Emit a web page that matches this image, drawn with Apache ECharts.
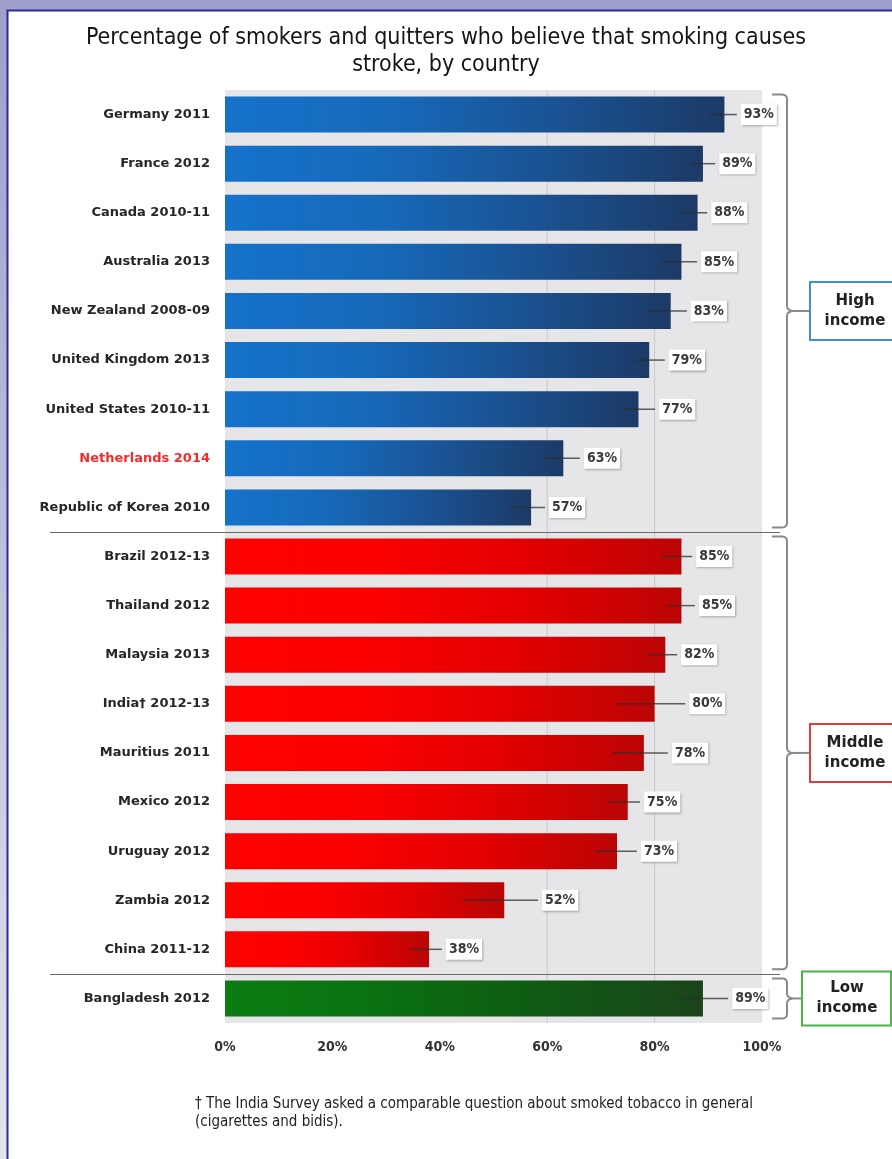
<!DOCTYPE html>
<html>
<head>
<meta charset="utf-8">
<script src="https://cdn.jsdelivr.net/npm/echarts@6/dist/echarts.min.js"></script>
<style>
  html, body { margin: 0; padding: 0; background: #ffffff; }
  #chart { width: 892px; height: 1159px; }
</style>
</head>
<body>
<div id="chart"></div>
<script>
// Survey rows, top to bottom
const categories = [
  'Germany 2011', 'France 2012', 'Canada 2010-11', 'Australia 2013',
  'New Zealand 2008-09', 'United Kingdom 2013', 'United States 2010-11',
  'Netherlands 2014', 'Republic of Korea 2010',
  'Brazil 2012-13', 'Thailand 2012', 'Malaysia 2013', 'India\u2020 2012-13',
  'Mauritius 2011', 'Mexico 2012', 'Uruguay 2012', 'Zambia 2012', 'China 2011-12',
  'Bangladesh 2012'
];
const incomeGroup = [
  'high', 'high', 'high', 'high', 'high', 'high', 'high', 'high', 'high',
  'middle', 'middle', 'middle', 'middle', 'middle', 'middle', 'middle', 'middle', 'middle',
  'low'
];
// Share believing smoking causes stroke (%)
const values = [93, 89, 88, 85, 83, 79, 77, 63, 57, 85, 85, 82, 80, 78, 75, 73, 52, 38, 89];
// Confidence interval bounds (%)
const ciLow = [89.9, 86.6, 85.1, 81.0, 78.8, 76.3, 74.1, 59.6, 53.1, 81.4, 82.3, 78.6, 73.0, 72.3, 71.3, 68.9, 44.3, 34.5, 84.7];
const ciHigh = [95.3, 91.3, 89.8, 87.9, 86.0, 81.9, 80.1, 66.1, 59.6, 87.0, 87.5, 84.2, 85.7, 82.5, 77.3, 76.7, 58.3, 40.4, 93.7];
const xTicks = [0, 20, 40, 60, 80, 100];
const gridValues = [60, 80];
const highlighted = 'Netherlands 2014';
const groupBoxes = [
  { key: 'high', label: 'High\nincome', color: '#3d8fd8' },
  { key: 'middle', label: 'Middle\nincome', color: '#e63a3a' },
  { key: 'low', label: 'Low\nincome', color: '#45b845' }
];
const titleText = 'Percentage of smokers and quitters who believe that smoking causes\nstroke, by country';
const footnote = '\u2020 The India Survey asked a comparable question about smoked tobacco in general\n(cigarettes and bidis).';

const COND = '"DejaVu Sans Condensed", "DejaVu Sans", sans-serif';
const SANS = '"DejaVu Sans", Verdana, sans-serif';

function grad(stops) {
  return new echarts.graphic.LinearGradient(0, 0, 1, 0,
    stops.map((c, i) => ({ offset: i / (stops.length - 1), color: c })));
}
const fills = {
  high: ['#1572cb', '#1669ba', '#1a5292', '#1c3a66'],
  middle: ['#ff0000', '#fa0000', '#e20000', '#bb0505'],
  low: ['#0b7d12', '#0a7010', '#0f5a14', '#1b441b']
};

const chart = echarts.init(document.getElementById('chart'), null, { renderer: 'canvas' });

const barData = values.map((v, i) => ({
  value: v,
  itemStyle: { color: grad(fills[incomeGroup[i]]) }
}));
const ciData = values.map((v, i) => [ciLow[i], ciHigh[i], i, v]);

const option = {
  animation: false,
  backgroundColor: 'transparent',
  title: {
    text: titleText,
    left: 'center',
    top: 20,
    textStyle: { fontFamily: COND, fontSize: 23, fontWeight: 'normal', color: '#141414', lineHeight: 27 }
  },
  grid: {
    left: 225, top: 90, width: 537, height: 933,
    show: true, backgroundColor: '#e6e5e8', borderWidth: 0
  },
  xAxis: {
    type: 'value', min: xTicks[0], max: xTicks[xTicks.length - 1], interval: 20,
    axisLine: { show: false }, axisTick: { show: false }, splitLine: { show: false },
    axisLabel: {
      formatter: '{value}%', margin: 17,
      fontFamily: COND, fontSize: 14, fontWeight: 'bold', color: '#333'
    }
  },
  yAxis: {
    type: 'category', inverse: true,
    data: categories.map(c => c === highlighted
      ? { value: c, textStyle: { color: '#f52a2a' } }
      : c),
    axisLine: { show: false }, axisTick: { show: false }, splitLine: { show: false },
    axisLabel: { margin: 15, fontFamily: SANS, fontSize: 13, fontWeight: 'bold', color: '#262626' }
  },
  series: [
    {
      // vertical reference lines behind the bars
      type: 'custom', z: 1, silent: true,
      data: gridValues.map(v => [v]),
      encode: { x: 0 },
      renderItem: function (params, api) {
        const x = api.coord([api.value(0), 0])[0];
        const cs = params.coordSys;
        return {
          type: 'line',
          shape: { x1: x, y1: cs.y, x2: x, y2: cs.y + cs.height },
          style: { stroke: '#c9c8cc', lineWidth: 1 }
        };
      }
    },
    {
      type: 'bar', z: 2, data: barData, barWidth: 36, silent: true
    },
    {
      // confidence interval and value tag
      type: 'custom', z: 3, silent: true,
      data: ciData,
      encode: { x: [0, 1], y: 2 },
      renderItem: function (params, api) {
        const p1 = api.coord([api.value(0), api.value(2)]);
        const p2 = api.coord([api.value(1), api.value(2)]);
        return {
          type: 'group',
          children: [
            {
              type: 'line',
              shape: { x1: p1[0], y1: p1[1], x2: p2[0], y2: p2[1] },
              style: { stroke: 'rgba(45,45,45,0.75)', lineWidth: 1.5 }
            },
            {
              type: 'text',
              x: p2[0] + 4, y: p2[1],
              style: {
                text: api.value(3) + '%',
                fill: '#3a3a3a',
                font: 'bold 14px ' + COND,
                align: 'left', verticalAlign: 'middle',
                backgroundColor: '#ffffff',
                padding: [4, 3, 3, 3],
                shadowColor: 'rgba(0,0,0,0.28)', shadowBlur: 2,
                shadowOffsetX: 1, shadowOffsetY: 1
              }
            }
          ]
        };
      }
    }
  ]
};
chart.setOption(option);

// quadratic curve sampled into points
function quad(p0, c, p1, n) {
  const pts = [];
  for (let k = 1; k <= n; k++) {
    const t = k / n, u = 1 - t;
    pts.push([u * u * p0[0] + 2 * u * t * c[0] + t * t * p1[0],
              u * u * p0[1] + 2 * u * t * c[1] + t * t * p1[1]]);
  }
  return pts;
}

// Frame, group separators, brackets and group boxes
function decorate() {
  const yc = i => chart.convertToPixel({ yAxisIndex: 0 }, i);
  const xc = v => chart.convertToPixel({ xAxisIndex: 0 }, v);
  const plotRight = xc(100);
  const half = 18;
  const g = [];

  g.push({
    type: 'rect', z: -20, silent: true,
    shape: { x: 0, y: 0, width: 892, height: 1159 },
    style: { fill: new echarts.graphic.LinearGradient(0, 0, 0, 1, [
      { offset: 0, color: '#9ca0cb' }, { offset: 0.5, color: '#bfc1da' }, { offset: 1, color: '#e4e4ec' }
    ]) }
  });
  g.push({
    type: 'rect', z: -19, silent: true,
    shape: { x: 7.5, y: 10.5, width: 900, height: 1160 },
    style: { fill: '#ffffff', stroke: '#2c2a9e', lineWidth: 2 }
  });

  // separators between income groups
  for (let i = 1; i < categories.length; i++) {
    if (incomeGroup[i] !== incomeGroup[i - 1]) {
      const y = Math.round((yc(i - 1) + yc(i)) / 2) + 0.5;
      g.push({
        type: 'line', z: 5, silent: true,
        shape: { x1: 50, y1: y, x2: plotRight + 18, y2: y },
        style: { stroke: '#6a6a6a', lineWidth: 1.2 }
      });
    }
  }

  groupBoxes.forEach(b => {
    const idx = categories.map((c, i) => i).filter(i => incomeGroup[i] === b.key);
    const top = yc(idx[0]) - half - 2;
    const bot = yc(idx[idx.length - 1]) + half + 2;
    const mid = (top + bot) / 2;
    const vx = plotRight + 25;
    const lx = plotRight + 10;
    const tip = vx + 8;
    const r = 5;
    let pts = [[lx, top], [vx - r, top]];
    pts = pts.concat(quad([vx - r, top], [vx, top], [vx, top + r], 6));
    pts.push([vx, mid - r]);
    pts = pts.concat(quad([vx, mid - r], [vx, mid], [tip, mid], 6));
    pts = pts.concat(quad([tip, mid], [vx, mid], [vx, mid + r], 6));
    pts.push([vx, bot - r]);
    pts = pts.concat(quad([vx, bot - r], [vx, bot], [vx - r, bot], 6));
    pts.push([lx, bot]);
    g.push({
      type: 'polyline', z: 5, silent: true,
      shape: { points: pts },
      style: { fill: null, stroke: '#8a8a8a', lineWidth: 2 }
    });
    const boxLeft = b.key === 'low' ? plotRight + 40 : plotRight + 48;
    const boxW = b.key === 'low' ? 89 : 84;
    const boxH = b.key === 'low' ? 54 : 58;
    g.push({
      type: 'line', z: 5, silent: true,
      shape: { x1: tip, y1: mid, x2: boxLeft, y2: mid },
      style: { stroke: '#8a8a8a', lineWidth: 2 }
    });
    g.push({
      type: 'rect', z: 6, silent: true,
      shape: { x: boxLeft, y: mid - boxH / 2, width: boxW, height: boxH },
      style: { fill: '#ffffff', stroke: b.color, lineWidth: 2 }
    });
    g.push({
      type: 'text', z: 7, silent: true,
      x: boxLeft + 45, y: mid,
      style: {
        text: b.label, align: 'center', verticalAlign: 'middle',
        font: 'bold 15px ' + SANS, fill: '#222', lineHeight: 20
      }
    });
  });

  g.push({
    type: 'text', z: 7, silent: true,
    x: 195, y: 1095,
    style: { text: footnote, font: '15px ' + COND, fill: '#222', lineHeight: 18 }
  });

  chart.setOption({ graphic: { elements: g } });
}
decorate();
</script>
</body>
</html>
